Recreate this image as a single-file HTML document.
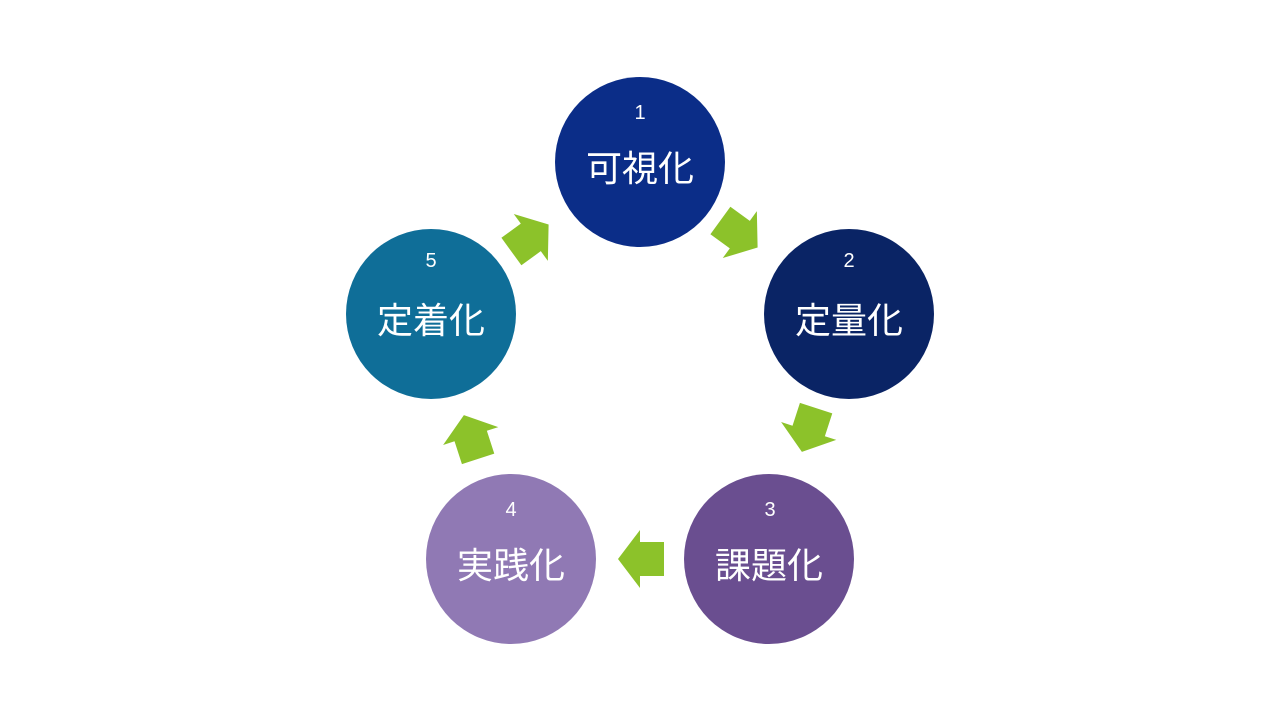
<!DOCTYPE html>
<html><head><meta charset="utf-8"><style>
html,body{margin:0;padding:0;background:#fff;}
svg{display:block}
text{font-family:"Liberation Sans","Noto Sans CJK JP",sans-serif;fill:#fff;text-anchor:middle}
</style></head><body>
<svg width="1280" height="720" viewBox="0 0 1280 720">
<defs>
<polygon id="arr" points="-23,-17 1,-17 1,-29 23,0 1,29 1,17 -23,17" fill="#8CC22A"/>
</defs>
<circle cx="640" cy="162" r="85" fill="#0B2D88"/>
<circle cx="849" cy="314" r="85" fill="#0A2465"/>
<circle cx="769" cy="559" r="85" fill="#6A4E90"/>
<circle cx="511" cy="559" r="85" fill="#9079B4"/>
<circle cx="431" cy="314" r="85" fill="#0F6E98"/>
<use href="#arr" transform="translate(739,234) rotate(36)"/>
<use href="#arr" transform="translate(809,430) rotate(108)"/>
<use href="#arr" transform="translate(641,559) rotate(180)"/>
<use href="#arr" transform="translate(471,437) rotate(252)"/>
<use href="#arr" transform="translate(530,238) rotate(324)"/>
<g font-size="20">
<text x="640" y="119">1</text>
<text x="849" y="267">2</text>
<text x="770" y="516">3</text>
<text x="511" y="516">4</text>
<text x="431" y="267">5</text>
</g>
<g font-size="36">
<text x="640" y="181">可視化</text>
<text x="849" y="333">定量化</text>
<text x="769" y="578">課題化</text>
<text x="511" y="578">実践化</text>
<text x="431" y="333">定着化</text>
</g>
</svg>
</body></html>
